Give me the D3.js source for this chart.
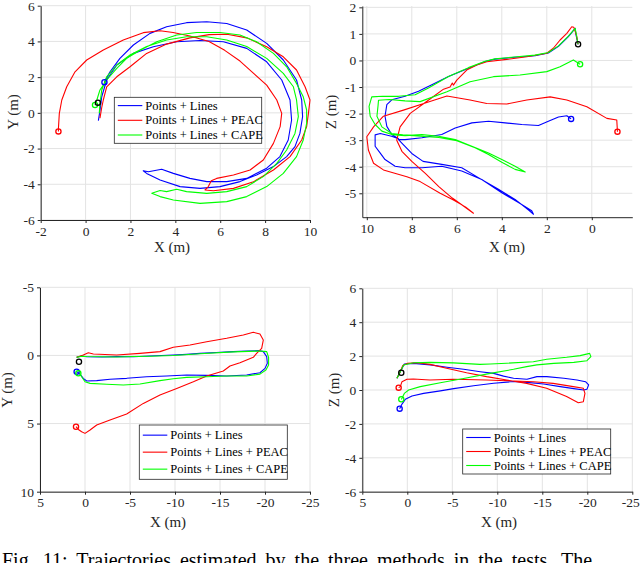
<!DOCTYPE html>
<html><head><meta charset="utf-8">
<script src="https://cdn.jsdelivr.net/npm/d3@7"></script>
<style>
body{margin:0;background:#fff}
svg{display:block}
text{font-family:"Liberation Serif","Times New Roman",serif}
</style></head>
<body><svg id="c" width="640" height="563"></svg>
<script>
const seriesNames = ["Points + Lines", "Points + Lines + PEAC", "Points + Lines + CAPE"];
const seriesColors = ["#0000ff", "#ff0000", "#00ff00"];

// Panel 1: sequence 1, X-Y
const p1XTicks = [-2, 0, 2, 4, 6, 8, 10];
const p1YTicks = [-6, -4, -2, 0, 2, 4, 6];
const xyBlue = [[0.57,-0.44],[0.6,-0.2],[0.66,0.3],[0.72,0.9],[0.94,1.84],[1.39,2.68],[2.13,3.33],[3.02,3.7],[4.06,3.98],[5.1,4.05],[6.14,3.98],[7.18,3.61],[8.07,2.86],[8.74,1.84],[9.11,0.72],[9.18,-0.4],[9.03,-1.52],[8.66,-2.45],[8.07,-3.1],[7.18,-3.67],[6.29,-3.85],[5.4,-3.85],[4.65,-3.67],[3.91,-3.39],[3.39,-3.16],[2.8,-3.3],[2.57,-3.24],[2.72,-3.39],[3.32,-3.76],[4.21,-4.13],[5.1,-4.23],[5.99,-4.13],[6.88,-3.85],[7.62,-3.48],[8.37,-3.01],[8.96,-2.45],[9.33,-1.89],[9.55,-1.15],[9.67,-0.21],[9.63,0.72],[9.4,1.84],[8.81,2.96],[8.07,3.89],[7.18,4.64],[6.29,5.0],[5.4,5.1],[4.5,5.05],[3.61,4.82],[2.87,4.45],[2.13,3.8],[1.53,3.05],[1.09,2.3],[0.84,1.72]];
const xyRed = [[0.64,-0.3],[0.72,0.3],[0.79,0.72],[0.94,1.46],[1.39,2.02],[1.98,2.58],[2.72,3.33],[3.61,3.85],[4.65,4.2],[5.5,4.38],[6.3,4.4],[7.18,4.2],[8.07,3.7],[8.81,3.14],[9.4,2.4],[9.78,1.46],[10.0,0.72],[9.93,-0.03],[9.85,-0.77],[9.63,-1.52],[9.11,-2.45],[8.37,-3.2],[7.48,-3.86],[6.59,-4.23],[5.7,-4.36],[5.32,-4.32],[5.47,-4.13],[5.6,-3.8],[5.84,-3.67],[6.59,-3.48],[7.33,-3.2],[7.92,-2.64],[8.37,-1.71],[8.67,-0.77],[8.74,-0.03],[8.52,0.72],[8.07,1.55],[7.5,2.2],[6.88,2.9],[6.2,3.5],[5.5,4.0],[4.65,4.3],[3.9,4.5],[3.32,4.6],[2.57,4.49],[1.68,4.08],[0.79,3.52],[0.05,2.96],[-0.47,2.3],[-0.84,1.46],[-1.06,0.72],[-1.17,-0.03],[-1.21,-0.87],[-1.21,-1.04]];
const xyGreen = [[0.61,-0.03],[0.64,0.53],[0.72,1.28],[0.94,2.02],[1.39,2.68],[1.98,3.24],[2.72,3.71],[3.61,4.08],[4.5,4.26],[5.4,4.26],[6.29,4.08],[7.18,3.71],[8.07,3.05],[8.81,2.21],[9.26,1.46],[9.4,0.72],[9.48,-0.21],[9.33,-1.15],[8.96,-2.08],[8.52,-2.83],[7.92,-3.57],[7.18,-4.13],[6.29,-4.41],[5.4,-4.51],[4.5,-4.41],[4.06,-4.28],[3.61,-4.41],[3.32,-4.35],[2.95,-4.5],[3.32,-4.69],[3.91,-4.88],[5.1,-5.07],[6.29,-4.97],[7.18,-4.69],[8.07,-4.13],[8.81,-3.39],[9.4,-2.45],[9.7,-1.52],[9.85,-0.59],[9.85,0.16],[9.7,0.9],[9.4,1.65],[8.96,2.58],[8.37,3.33],[7.62,3.98],[6.88,4.36],[5.99,4.5],[4.95,4.5],[4.06,4.36],[3.17,3.98],[2.43,3.51],[1.83,3.05],[1.39,2.49],[0.94,1.84],[0.64,1.28],[0.5,0.72],[0.42,0.44]];
const xyStart = [0.55, 0.57];
const xyEnds = [[0.84,1.72],[-1.21,-1.04],[0.42,0.44]];

// Panel 2: sequence 1, X-Z
const p2XTicks = [10, 8, 6, 4, 2, 0];
const p2YTicks = [2, 1, 0, -1, -2, -3, -4, -5];
const xzBlue = [[0.61,0.61],[0.7,0.95],[0.74,1.21],[1.04,0.9],[1.48,0.53],[1.93,0.28],[2.52,0.18],[3.56,0.11],[4.3,0.05],[4.74,-0.04],[5.48,-0.29],[6.37,-0.6],[7.11,-0.91],[7.7,-1.16],[8.3,-1.35],[8.89,-1.48],[9.11,-1.66],[9.19,-2.1],[9.11,-2.48],[8.89,-2.79],[8.59,-2.95],[8.9,-2.85],[9.4,-2.75],[9.63,-2.8],[9.63,-3.23],[9.41,-3.48],[9.19,-3.73],[8.74,-3.98],[8.3,-4.04],[7.55,-4.04],[6.67,-3.98],[5.78,-4.16],[4.89,-4.48],[4.0,-4.98],[3.26,-5.35],[2.67,-5.66],[2.59,-5.79],[2.81,-5.63],[3.41,-5.23],[4.15,-4.85],[5.04,-4.41],[5.78,-4.04],[6.67,-3.91],[7.5,-3.8],[8.0,-3.5],[8.4,-3.15],[8.59,-2.98],[8.3,-2.98],[7.55,-2.91],[6.67,-2.79],[6.07,-2.54],[5.33,-2.35],[4.59,-2.29],[3.85,-2.35],[3.11,-2.41],[2.37,-2.45],[1.93,-2.29],[1.48,-2.13],[1.11,-2.08],[0.92,-2.2]];
const xzRed = [[0.61,0.61],[0.68,0.95],[0.8,1.25],[0.89,1.27],[1.11,1.02],[1.41,0.77],[1.71,0.46],[2.0,0.27],[2.89,0.14],[3.78,0.04],[4.67,-0.05],[5.11,-0.17],[5.56,-0.36],[6.0,-0.74],[6.15,-0.93],[6.2,-0.85],[6.3,-1.0],[6.59,-1.08],[7.19,-1.45],[8.07,-1.99],[8.52,-2.5],[8.67,-3.0],[8.44,-3.42],[8.0,-3.8],[7.4,-4.25],[6.8,-4.75],[6.2,-5.18],[5.75,-5.45],[5.26,-5.75],[5.6,-5.52],[6.15,-5.25],[6.74,-5.0],[7.63,-4.56],[8.22,-4.38],[9.26,-4.12],[9.7,-3.87],[9.93,-3.37],[10.0,-2.87],[9.7,-2.5],[9.26,-2.1],[8.37,-1.87],[7.4,-1.6],[6.44,-1.34],[5.41,-1.49],[4.67,-1.62],[3.78,-1.64],[2.89,-1.49],[1.85,-1.37],[1.11,-1.49],[0.22,-1.74],[-0.67,-2.18],[-1.11,-2.24],[-1.14,-2.68]];
const xzGreen = [[0.61,0.61],[0.68,0.95],[0.74,1.21],[1.04,0.92],[1.48,0.55],[1.93,0.3],[2.52,0.2],[3.56,0.12],[4.3,0.06],[4.74,-0.03],[5.48,-0.27],[6.37,-0.6],[7.26,-1.04],[7.85,-1.29],[8.59,-1.35],[9.3,-1.35],[9.78,-1.37],[9.9,-1.73],[9.85,-2.1],[9.63,-2.41],[9.33,-2.66],[8.89,-2.79],[8.3,-2.83],[7.55,-2.79],[6.81,-2.85],[6.07,-2.98],[5.33,-3.23],[4.59,-3.48],[4.0,-3.73],[3.41,-3.98],[2.96,-4.2],[3.41,-4.1],[4.0,-3.83],[4.59,-3.54],[5.19,-3.29],[6.0,-3.02],[6.8,-2.9],[7.6,-2.85],[8.4,-2.8],[8.89,-2.75],[9.33,-2.5],[9.55,-2.1],[9.5,-1.7],[9.48,-1.5],[9.0,-1.47],[8.3,-1.52],[7.63,-1.55],[6.44,-1.18],[5.41,-0.8],[4.37,-0.61],[3.19,-0.55],[2.0,-0.42],[1.41,-0.24],[0.82,0.02],[0.52,-0.14]];
const xzStart = [0.61, 0.61];
const xzEnds = [[0.92,-2.2],[-1.14,-2.68],[0.52,-0.14]];

// Panel 3: sequence 2, X-Y
const p3XTicks = [5, 0, -5, -10, -15, -20, -25];
const p3YTicks = [-5, 0, 5, 10];
const s2xyBlue = [[0.93,0.14],[0.37,0.04],[-0.19,0.1],[-1.9,0.12],[-3.52,0.09],[-5.4,0.1],[-7.22,0.04],[-9.81,-0.03],[-11.3,-0.08],[-12.78,-0.15],[-14.6,-0.22],[-16.48,-0.28],[-18.0,-0.32],[-19.44,-0.35],[-19.81,-0.28],[-20.19,0.09],[-20.26,0.58],[-20.0,0.95],[-19.44,1.27],[-17.96,1.44],[-15.74,1.51],[-13.52,1.46],[-11.3,1.44],[-9.07,1.51],[-6.85,1.56],[-4.63,1.68],[-2.78,1.75],[-1.3,1.85],[-0.19,1.88],[0.19,1.68],[0.56,1.37],[0.93,1.19]];
const s2xyRed = [[0.93,0.14],[0.19,-0.03],[-0.37,-0.2],[-0.93,-0.11],[-3.52,-0.03],[-6.11,-0.15],[-8.33,-0.28],[-9.81,-0.6],[-11.67,-0.77],[-13.52,-1.01],[-15.74,-1.26],[-17.59,-1.5],[-18.7,-1.7],[-19.44,-1.57],[-19.81,-1.13],[-19.63,-0.52],[-19.07,-0.15],[-18.7,0.14],[-17.22,0.53],[-16.11,0.78],[-15.37,1.14],[-13.52,1.51],[-12.04,1.93],[-10.19,2.42],[-8.33,2.91],[-6.48,3.52],[-4.63,4.3],[-2.78,4.74],[-1.3,5.11],[-0.56,5.47],[0.0,5.72],[0.37,5.6],[0.74,5.43],[1.0,5.23]];
const s2xyGreen = [[0.93,0.14],[0.37,0.06],[-0.19,0.08],[-1.9,0.1],[-3.52,0.12],[-5.4,0.08],[-7.22,0.06],[-9.81,0.0],[-12.78,-0.12],[-16.48,-0.26],[-19.44,-0.33],[-20.19,-0.28],[-20.4,0.14],[-20.4,0.7],[-20.1,1.07],[-19.44,1.37],[-17.96,1.51],[-15.74,1.51],[-13.52,1.56],[-11.3,1.61],[-9.81,1.71],[-8.33,1.85],[-6.11,2.1],[-4.26,2.17],[-2.41,2.12],[-0.56,2.05],[0.0,1.93],[0.37,1.56],[0.63,1.31]];
const s2xyStart = [0.67, 0.46];
const s2xyEnds = [[0.93,1.19],[1.0,5.23],[0.74,1.31]];

// Panel 4: sequence 2, X-Z
const p4XTicks = [5, 0, -5, -10, -15, -20, -25];
const p4YTicks = [-6, -4, -2, 0, 2, 4, 6];
const s2xzBlue = [[1.15,0.7],[0.78,1.08],[0.33,1.53],[-0.7,1.57],[-2.56,1.48],[-4.41,1.34],[-6.26,1.22],[-8.11,1.08],[-9.59,0.98],[-10.7,0.82],[-11.81,0.69],[-13.3,0.63],[-14.4,0.79],[-15.5,0.79],[-17.4,0.69],[-18.85,0.59],[-19.8,0.49],[-20.15,0.3],[-19.96,0.04],[-19.6,0.0],[-18.5,0.08],[-17.0,0.2],[-15.15,0.35],[-13.3,0.45],[-11.8,0.5],[-9.6,0.4],[-7.37,0.25],[-5.15,0.08],[-3.67,-0.05],[-1.81,-0.2],[-0.52,-0.35],[0.22,-0.55],[0.59,-0.83],[0.85,-1.1]];
const s2xzRed = [[1.15,0.7],[0.78,1.08],[0.5,1.45],[0.0,1.57],[-1.04,1.61],[-2.52,1.51],[-4.37,1.28],[-6.59,1.02],[-8.81,0.79],[-11.04,0.59],[-13.26,0.39],[-15.48,0.1],[-17.7,-0.39],[-19.0,-0.75],[-19.56,-0.69],[-19.74,-0.2],[-19.56,0.1],[-18.44,0.2],[-16.2,0.39],[-14.0,0.49],[-11.0,0.55],[-8.81,0.59],[-5.11,0.63],[-2.52,0.59],[-0.67,0.65],[0.04,0.63],[0.59,0.49],[0.78,0.2],[0.96,0.14]];
const s2xzGreen = [[1.15,0.7],[0.78,1.08],[0.41,1.48],[-0.7,1.61],[-2.56,1.63],[-5.11,1.6],[-8.07,1.51],[-9.22,1.53],[-11.04,1.58],[-14.0,1.67],[-15.5,1.81],[-17.7,1.93],[-19.2,2.03],[-20.26,2.16],[-20.4,1.97],[-19.96,1.73],[-18.5,1.63],[-16.26,1.57],[-14.4,1.48],[-13.26,1.38],[-11.8,1.22],[-9.22,0.98],[-6.4,0.69],[-3.67,0.43],[-1.44,0.2],[-0.15,0.0],[0.33,-0.2],[0.59,-0.49],[0.67,-0.55]];
const s2xzStart = [0.67, 1.02];
const s2xzEnds = [[0.85,-1.1],[0.96,0.14],[0.67,-0.55]];

const caption = "Fig. 11: Trajectories estimated by the three methods in the tests. The";

const panels = [
  {l:40.7, r:310, t:5.7, b:220, xDom:[-2,10], yDom:[-6,6], xTicks:p1XTicks, yTicks:p1YTicks,
   xLabel:"X (m)", yLabel:"Y (m)", xl:[172,252], yl:[13,112], series:[xyBlue,xyRed,xyGreen], start:xyStart, ends:xyEnds,
   legend:{x:114.3, y:97.3, w:147.4, h:46, row:14.7}},
  {l:362.3, r:632.3, t:6.0, b:217.2, xDom:[10.2,-1.8], yDom:[-5.9,2.05], xTicks:p2XTicks, yTicks:p2YTicks,
   xLabel:"X (m)", yLabel:"Z (m)", xl:[507,252], yl:[331,112], series:[xzBlue,xzRed,xzGreen], start:xzStart, ends:xzEnds, legend:null},
  {l:40, r:310, t:287.3, b:491.7, xDom:[5,-25], yDom:[10,-5], xTicks:p3XTicks, yTicks:p3YTicks,
   xLabel:"X (m)", yLabel:"Y (m)", xl:[168,527], yl:[7,390], series:[s2xyBlue,s2xyRed,s2xyGreen], start:s2xyStart, ends:s2xyEnds,
   legend:{x:139.3, y:425, w:148, h:54.3, row:17}},
  {l:362.3, r:632.3, t:288.3, b:491.7, xDom:[5,-25], yDom:[-6,6], xTicks:p4XTicks, yTicks:p4YTicks,
   xLabel:"X (m)", yLabel:"Z (m)", xl:[499,527], yl:[334,390], series:[s2xzBlue,s2xzRed,s2xzGreen], start:s2xzStart, ends:s2xzEnds,
   legend:{x:462.7, y:429, w:148, h:45, row:14}}
];

const svg = d3.select("#c");
svg.append("rect").attr("width",640).attr("height",563).attr("fill","#fff");
const axisColor = "#262626";

panels.forEach(p => {
  const x = d3.scaleLinear().domain(p.xDom).range([p.l, p.r]);
  const y = d3.scaleLinear().domain(p.yDom).range([p.b, p.t]);
  const g = svg.append("g");
  // grid
  g.append("g").selectAll("line").data(p.xTicks).join("line")
    .attr("x1", d => x(d)).attr("x2", d => x(d)).attr("y1", p.t).attr("y2", p.b)
    .attr("stroke", "#e3e3e3").attr("stroke-width", 1);
  g.append("g").selectAll("line").data(p.yTicks).join("line")
    .attr("x1", p.l).attr("x2", p.r).attr("y1", d => y(d)).attr("y2", d => y(d))
    .attr("stroke", "#e3e3e3").attr("stroke-width", 1);
  // axes
  const ax = g.append("g").attr("transform", `translate(0,${p.b})`)
    .call(d3.axisBottom(x).tickValues(p.xTicks).tickSize(3).tickSizeOuter(0).tickPadding(3).tickFormat(d => String(d)));
  const ay = g.append("g").attr("transform", `translate(${p.l},0)`)
    .call(d3.axisLeft(y).tickValues(p.yTicks).tickSize(3).tickSizeOuter(0).tickPadding(3).tickFormat(d => String(d)));
  [ax, ay].forEach(a => {
    a.select(".domain").attr("stroke", axisColor);
    a.selectAll(".tick line").attr("stroke", axisColor);
    a.selectAll(".tick text").attr("fill", axisColor).style("font-size", "13.5px")
      .style("font-family", '"Liberation Serif","Times New Roman",serif');
  });
  // keep the last tick label of a right-edge axis inside the window
  ax.selectAll(".tick text").filter(d => x(d) > 625).attr("dx", -2);
  // axis labels
  g.append("text").attr("x", p.xl[0]).attr("y", p.xl[1]).attr("text-anchor", "middle")
    .attr("fill", axisColor).style("font-size", "15px").text(p.xLabel);
  g.append("text").attr("transform", `translate(${p.yl[0]},${p.yl[1]}) rotate(-90)`)
    .attr("text-anchor", "middle").attr("dominant-baseline", "central")
    .attr("fill", axisColor).style("font-size", "15px").text(p.yLabel);
  // trajectories
  const line = d3.line().x(d => x(d[0])).y(d => y(d[1])).curve(d3.curveLinear);
  p.series.forEach((s, i) => {
    g.append("path").attr("d", line(s)).attr("fill", "none")
      .attr("stroke", seriesColors[i]).attr("stroke-width", 1.1).attr("stroke-linejoin", "round");
  });
  // markers
  p.ends.forEach((e, i) => {
    g.append("circle").attr("cx", x(e[0])).attr("cy", y(e[1])).attr("r", 2.6)
      .attr("fill", "none").attr("stroke", seriesColors[i]).attr("stroke-width", 1.3);
  });
  g.append("circle").attr("cx", x(p.start[0])).attr("cy", y(p.start[1])).attr("r", 2.6)
    .attr("fill", "none").attr("stroke", "#000").attr("stroke-width", 1.3);
  // legend
  if (p.legend) {
    const L = p.legend;
    const lg = g.append("g");
    lg.append("rect").attr("x", L.x).attr("y", L.y).attr("width", L.w).attr("height", L.h)
      .attr("fill", "#fff").attr("stroke", "#262626").attr("stroke-width", 0.8);
    seriesNames.forEach((n, i) => {
      const cy = L.y + L.h / 2 + (i - 1) * L.row;
      lg.append("line").attr("x1", L.x + 3.5).attr("x2", L.x + 28).attr("y1", cy).attr("y2", cy)
        .attr("stroke", seriesColors[i]).attr("stroke-width", 1.1);
      lg.append("text").attr("x", L.x + 31).attr("y", cy).attr("dominant-baseline", "central")
        .attr("fill", "#000").style("font-size", "12.5px").text(n);
    });
  }
});

svg.append("text").attr("x", 2).attr("y", 567).attr("fill", "#000")
  .style("font-size", "20px").style("word-spacing", "4px").text(caption);
</script></body></html>
